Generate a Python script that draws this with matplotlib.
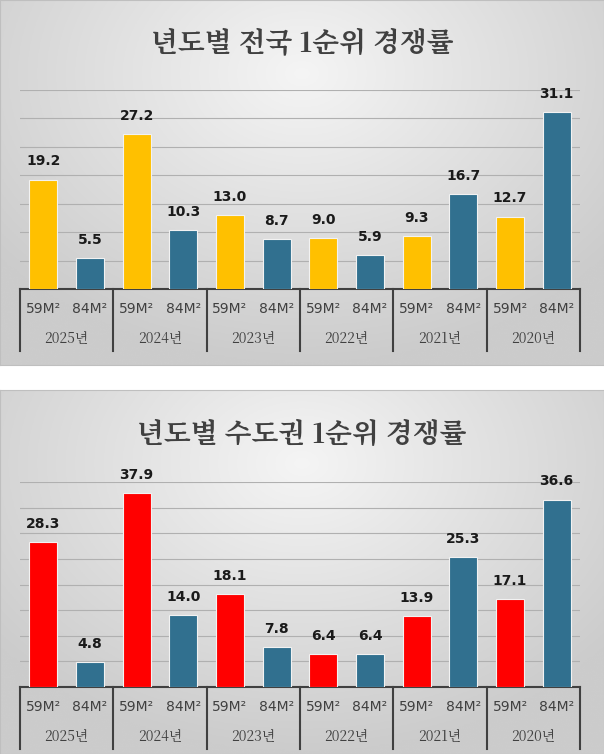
import numpy as np
import matplotlib
matplotlib.use("Agg")
import matplotlib.pyplot as plt
import matplotlib.transforms as mtrans
from matplotlib import font_manager

cjk = [f.name for f in font_manager.fontManager.ttflist if "CJK" in f.name]
kr = [n for n in cjk if "KR" in n] or cjk
plt.rcParams["font.family"] = (kr[:1] if kr else []) + ["DejaVu Sans"]

years = ["2025년", "2024년", "2023년", "2022년", "2021년", "2020년"]
sizes = ["59M²", "84M²"]
national_59 = [19.2, 27.2, 13.0, 9.0, 9.3, 12.7]
national_84 = [5.5, 10.3, 8.7, 5.9, 16.7, 31.1]
capital_59 = [28.3, 37.9, 18.1, 6.4, 13.9, 17.1]
capital_84 = [4.8, 14.0, 7.8, 6.4, 25.3, 36.6]

W, H = 604, 754
fig = plt.figure(figsize=(W / 100, H / 100), dpi=100)
fig.patch.set_facecolor("white")

# radial gradient for panel background (light centre, grey edges)
yy, xx = np.mgrid[-1:1:200j, -1:1:300j]
r = np.clip(np.sqrt(xx**2 * 0.6 + (yy + 0.6)**2 * 0.4), 0, 1)
shade = 0.96 - 0.16 * r
grad = np.dstack([shade, shade, shade])


def panel(top_px, bot_px, base_px, ymax, v59, v84, c59, title):
    bg = fig.add_axes([0, 1 - bot_px / H, 1, (bot_px - top_px) / H])
    bg.imshow(grad, aspect="auto", extent=[0, 1, 0, 1])
    bg.set_xlim(0, 1); bg.set_ylim(0, 1)
    bg.set_xticks([]); bg.set_yticks([])
    for s in bg.spines.values():
        s.set_color("#bfbfbf")
    bg.text(0.5, 1 - 44 / (bot_px - top_px), title, ha="center", va="center",
            fontsize=20, fontweight="bold", color="#404040")

    ppu = 5.7 if ymax == 35 else 5.12
    hpx = ymax * ppu
    ax = fig.add_axes([20 / W, 1 - base_px / H, 560 / W, hpx / H])
    ax.patch.set_alpha(0)
    x = np.arange(6)
    b1 = ax.bar(x - 0.25, v59, width=0.3, color=c59, edgecolor="#f2f2f2", linewidth=0.8, zorder=3)
    b2 = ax.bar(x + 0.25, v84, width=0.3, color="#31708f", edgecolor="#f2f2f2", linewidth=0.8, zorder=3)
    for bars in (b1, b2):
        ax.bar_label(bars, fmt="%.1f", padding=8, fontsize=10, fontweight="bold", color="#1a1a1a",
                     fontfamily="DejaVu Sans")
    ax.set_xlim(-0.5, 5.5)
    ax.set_ylim(0, ymax)
    ax.set_yticks(np.arange(5, ymax + 1, 5))
    ax.yaxis.grid(True, color="#b0b0b0", linewidth=0.8, zorder=0)
    ax.tick_params(left=False, labelleft=False, bottom=False, labelbottom=False)
    for s in ["top", "right", "left"]:
        ax.spines[s].set_visible(False)
    ax.spines["bottom"].set_color("#404040")
    ax.spines["bottom"].set_linewidth(1.5)

    tr = mtrans.blended_transform_factory(ax.transData, ax.transAxes)
    f = 1 / hpx
    for b in np.arange(-0.5, 6.0, 1.0):
        ax.plot([b, b], [0, -62 * f], transform=tr, color="#404040", lw=1.5, clip_on=False)
    for i in range(6):
        for k, dx in enumerate((-0.25, 0.25)):
            ax.text(i + dx, -20 * f, sizes[k], transform=tr, ha="center", va="center",
                    fontsize=10, color="#404040", fontfamily="DejaVu Sans")
        ax.text(i, -50 * f, years[i], transform=tr, ha="center", va="center",
                fontsize=10, color="#404040")


panel(0, 365, 289, 35, national_59, national_84, "#ffc000", "년도별 전국 1순위 경쟁률")
panel(390, 754, 687, 40, capital_59, capital_84, "#ff0000", "년도별 수도권 1순위 경쟁률")

fig.savefig("out.png", dpi=100)
